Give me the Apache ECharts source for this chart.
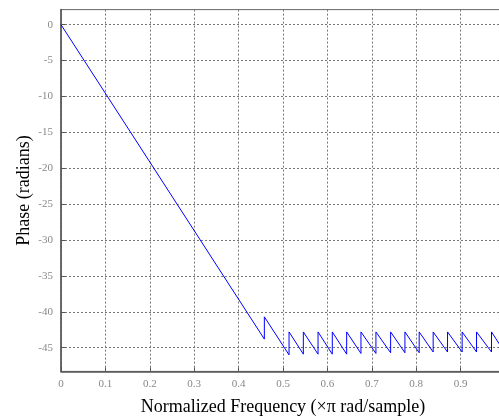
<!DOCTYPE html>
<html>
<head>
<meta charset="utf-8">
<script src="https://cdn.jsdelivr.net/npm/echarts@6/dist/echarts.min.js"></script>
<style>
  html, body { margin: 0; padding: 0; background: #fff; }
  #chart { width: 499px; height: 419px; }
</style>
</head>
<body>
<div id="chart"></div>
<script>
// phase response: x = normalized frequency, y = phase (rad)
const freqs = [
  0, 0.458, 0.458, 0.5136, 0.5136, 0.5458, 0.5458, 0.5789, 0.5789, 0.611, 0.611,
  0.6434, 0.6434, 0.6756, 0.6756, 0.7093, 0.7093, 0.7424, 0.7424, 0.7746, 0.7746,
  0.8067, 0.8067, 0.8382, 0.8382, 0.8706, 0.8706, 0.9035, 0.9035, 0.9359, 0.9359,
  0.9696, 0.9696, 1
];
const phase = [
  0, -43.8, -40.7, -46.0, -42.8, -45.9, -42.8, -45.9, -42.8, -45.9, -42.8,
  -45.9, -42.8, -45.8, -42.8, -45.8, -42.8, -45.7, -42.8, -45.7, -42.8,
  -45.7, -42.8, -45.6, -42.8, -45.6, -42.8, -45.6, -42.8, -45.6, -42.8,
  -45.6, -42.8, -45.7
];

const chart = echarts.init(document.getElementById("chart"));

const serif = "Liberation Serif";
const gridLine = { show: true, lineStyle: { color: "#777", type: [2, 2], width: 1 } };

chart.setOption({
  animation: false,
  grid: {
    left: 61,
    right: -6,
    top: 9.6,
    bottom: 47.6,
    outerBoundsMode: "none",
    show: true,
    borderColor: "#666",
    borderWidth: 1,
  },
  xAxis: {
    type: "value",
    min: 0,
    max: 1,
    interval: 0.1,
    name: "Normalized Frequency (\u00d7\u03c0 rad/sample)",
    nameLocation: "middle",
    nameGap: 27,
    nameMoveOverlap: false,
    nameTextStyle: { fontFamily: serif, fontSize: 18, color: "#000" },
    axisLine: { show: true, onZero: false, lineStyle: { color: "#555", width: 1.5 } },
    axisTick: { inside: true, length: 4, lineStyle: { color: "#555" } },
    axisLabel: { fontFamily: serif, fontSize: 11, color: "#888", margin: 7 },
    splitLine: gridLine,
  },
  yAxis: {
    type: "value",
    min: -48.3,
    max: 2.1,
    minInterval: 5,
    maxInterval: 5,
    name: "Phase (radians)",
    nameLocation: "middle",
    nameGap: 28,
    nameMoveOverlap: false,
    nameTextStyle: { fontFamily: serif, fontSize: 18, color: "#000" },
    axisLine: { show: true, onZero: false, lineStyle: { color: "#555", width: 1.5 } },
    axisTick: { inside: true, length: 4, lineStyle: { color: "#555" } },
    axisLabel: {
      fontFamily: serif,
      fontSize: 11,
      color: "#888",
      margin: 8,
      showMinLabel: false,
      showMaxLabel: false,
    },
    splitLine: gridLine,
  },
  series: [
    {
      type: "line",
      data: freqs.map((f, i) => [f, phase[i]]),
      showSymbol: false,
      lineStyle: { color: "#0000ff", width: 1 },
      clip: true,
    },
  ],
});
</script>
</body>
</html>
